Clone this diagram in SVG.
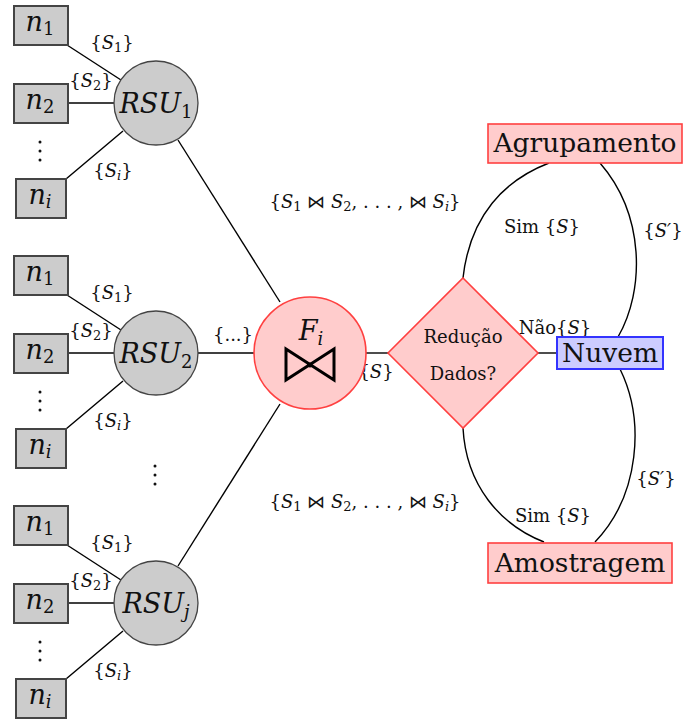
<svg xmlns="http://www.w3.org/2000/svg" width="683" height="719" viewBox="0 0 683 719" font-family="'DejaVu Serif', serif">
<style>
text{font-family:"DejaVu Serif",serif;fill:#111;}
.m{font-style:italic;}
.box{fill:#cccccc;stroke:#444;stroke-width:2;}
.rsu{fill:#cccccc;stroke:#444;stroke-width:1.3;}
.red{fill:#ffcccc;stroke:#ff4040;stroke-width:1.6;}
.blue{fill:#ccccff;stroke:#3333ff;stroke-width:2;}
.e{stroke:#000;stroke-width:1.4;fill:none;}
.lbl{font-size:18px;}
.nl{font-size:27px;text-anchor:middle;}
.big{font-size:26.5px;text-anchor:middle;}
.rs{font-size:27px;text-anchor:middle;}
</style>
<defs>
<g id="cluster">
<line class="e" x1="67" y1="45" x2="121" y2="80"/>
<line class="e" x1="67" y1="103" x2="114" y2="103"/>
<line class="e" x1="66" y1="179" x2="123" y2="131"/>
<rect class="box" x="14" y="6" width="54" height="39"/>
<text class="nl" x="40" y="31"><tspan class="m">n</tspan><tspan font-size="18" dy="4">1</tspan></text>
<rect class="box" x="14" y="84" width="54" height="39"/>
<text class="nl" x="40" y="109"><tspan class="m">n</tspan><tspan font-size="18" dy="4">2</tspan></text>
<rect class="box" x="16" y="179" width="50" height="39"/>
<text class="nl" x="40" y="204"><tspan class="m">n</tspan><tspan font-size="18" dy="4" class="m">i</tspan></text>
<g fill="#111"><circle cx="40" cy="142" r="1.5"/><circle cx="40" cy="151" r="1.5"/><circle cx="40" cy="160" r="1.5"/></g>
<text class="lbl" x="112" y="49" text-anchor="middle">{<tspan class="m">S</tspan><tspan font-size="13" dy="3">1</tspan><tspan dy="-3">}</tspan></text>
<text class="lbl" x="91" y="87" text-anchor="middle">{<tspan class="m">S</tspan><tspan font-size="13" dy="3">2</tspan><tspan dy="-3">}</tspan></text>
<text class="lbl" x="113" y="177" text-anchor="middle">{<tspan class="m">S</tspan><tspan font-size="13" dy="3" class="m">i</tspan><tspan dy="-3">}</tspan></text>
</g>
</defs>
<g id="edges">
<line class="e" x1="178" y1="140" x2="280" y2="302"/>
<line class="e" x1="198" y1="353" x2="254" y2="353"/>
<line class="e" x1="178" y1="566" x2="280" y2="404"/>
<line class="e" x1="366" y1="353" x2="388" y2="353"/>
<line class="e" x1="538" y1="353" x2="556" y2="353"/>
<path class="e" d="M463,278 C470,215 505,180 549,163"/>
<path class="e" d="M600,163 C645,215 645,290 618,337"/>
<path class="e" d="M463,428 C466,485 500,525 544,542"/>
<path class="e" d="M620,369 C645,420 640,495 595,542"/>
</g>
<g id="labels">
<text class="lbl" x="365" y="208" text-anchor="middle">{<tspan class="m">S</tspan><tspan font-size="13" dy="3">1</tspan><tspan dy="-3"> ⋈ </tspan><tspan class="m">S</tspan><tspan font-size="13" dy="3">2</tspan><tspan dy="-3">, . . . , ⋈ </tspan><tspan class="m">S</tspan><tspan font-size="13" dy="3" class="m">i</tspan><tspan dy="-3">}</tspan></text>
<text class="lbl" x="365" y="508" text-anchor="middle">{<tspan class="m">S</tspan><tspan font-size="13" dy="3">1</tspan><tspan dy="-3"> ⋈ </tspan><tspan class="m">S</tspan><tspan font-size="13" dy="3">2</tspan><tspan dy="-3">, . . . , ⋈ </tspan><tspan class="m">S</tspan><tspan font-size="13" dy="3" class="m">i</tspan><tspan dy="-3">}</tspan></text>
<text class="lbl" x="233" y="341" text-anchor="middle">{...}</text>
<text class="lbl" x="376" y="378" text-anchor="middle">{<tspan class="m">S</tspan>}</text>
<text class="lbl" x="555" y="334" text-anchor="middle">Não{<tspan class="m">S</tspan>}</text>
<text class="lbl" x="542" y="233" text-anchor="middle">Sim {<tspan class="m">S</tspan>}</text>
<text class="lbl" x="553" y="522" text-anchor="middle">Sim {<tspan class="m">S</tspan>}</text>
<text class="lbl" x="663" y="237" text-anchor="middle">{<tspan class="m">S′</tspan>}</text>
<text class="lbl" x="656" y="485" text-anchor="middle">{<tspan class="m">S′</tspan>}</text>
<g fill="#111"><circle cx="155" cy="466" r="1.5"/><circle cx="155" cy="475" r="1.5"/><circle cx="155" cy="484" r="1.5"/></g>
</g>
<g id="cluster1"><use href="#cluster"/></g>
<g id="cluster2" transform="translate(0,250)"><use href="#cluster"/></g>
<g id="cluster3" transform="translate(0,500)"><use href="#cluster"/></g>
<g id="rsu1"><circle class="rsu" cx="156" cy="103" r="42"/><text class="rs" x="156" y="113"><tspan class="m">RSU</tspan><tspan font-size="18" dy="5">1</tspan></text></g>
<g id="rsu2"><circle class="rsu" cx="156" cy="353" r="42"/><text class="rs" x="156" y="363"><tspan class="m">RSU</tspan><tspan font-size="18" dy="5">2</tspan></text></g>
<g id="rsuj"><circle class="rsu" cx="156" cy="603" r="42"/><text class="rs" x="156" y="613"><tspan class="m">RSU</tspan><tspan font-size="18" dy="5" class="m">j</tspan></text></g>
<g id="fi">
<circle class="red" cx="310" cy="353" r="56"/>
<text class="rs" x="311" y="340"><tspan class="m">F</tspan><tspan font-size="18" dy="5" class="m">i</tspan></text>
<path d="M286,349 L286,380 L334,349 L334,380 Z" fill="none" stroke="#000" stroke-width="3" stroke-linejoin="miter"/>
<circle cx="310" cy="365" r="2.5" fill="#000"/>
</g>
<g id="decision">
<polygon class="red" points="463,278 538,353 463,428 388,353"/>
<text x="463" y="343" font-size="18" text-anchor="middle">Redução</text>
<text x="463" y="380" font-size="18" text-anchor="middle">Dados?</text>
</g>
<g id="agrupamento"><rect class="red" x="488" y="124" width="194" height="39"/><text class="big" x="585" y="152">Agrupamento</text></g>
<g id="nuvem"><rect class="blue" x="557" y="337" width="106" height="32"/><text class="big" x="610" y="362">Nuvem</text></g>
<g id="amostragem"><rect class="red" x="488" y="543" width="184" height="40"/><text class="big" x="580" y="572">Amostragem</text></g>
</svg>
